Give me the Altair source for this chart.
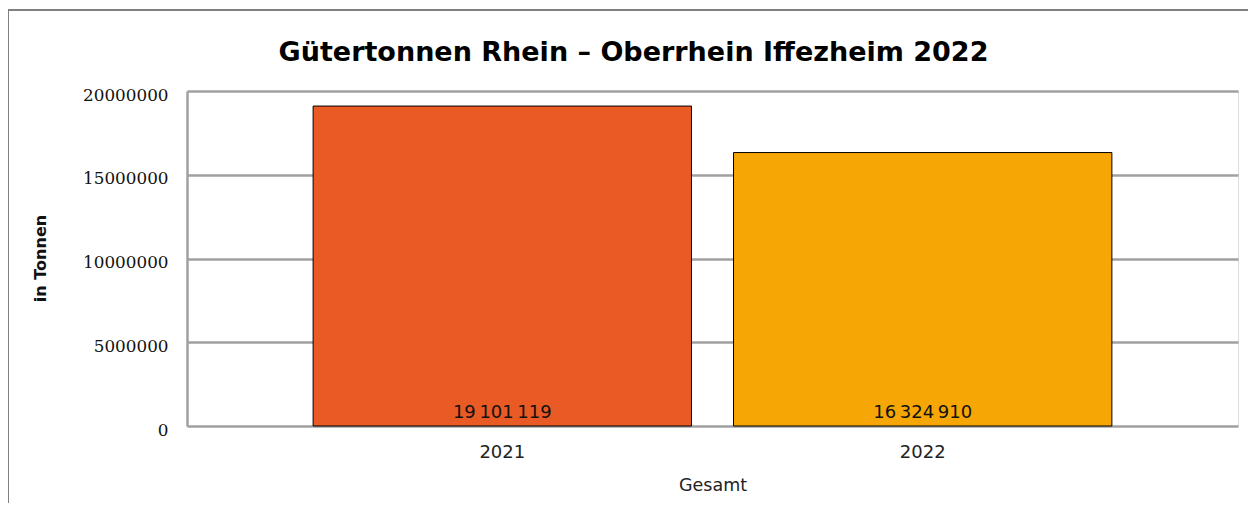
import altair as alt
import pandas as pd

years = ["2021", "2022"]
tonnen = [19101119, 16324910]
labels = ["19\u202f101\u202f119", "16\u202f324\u202f910"]
colors = ["#EA5A25", "#F6A605"]
y_ticks = [0, 5000000, 10000000, 15000000, 20000000]
title_text = ["Gütertonnen Rhein – Oberrhein Iffezheim 2022"]

df = pd.DataFrame({"Jahr": years, "Tonnen": tonnen, "Label": labels})
tdf = pd.DataFrame({"t": title_text})

SANS = "DejaVu Sans"
SERIF = "DejaVu Serif"

x_enc = alt.X(
    "Jahr:N",
    title="Gesamt",
    scale=alt.Scale(paddingInner=0.1, paddingOuter=0.3),
    axis=alt.Axis(
        labelAngle=0, labelFont=SANS, labelFontSize=18, labelColor="#222222",
        labelPadding=17, domain=False, ticks=False,
        titleFont=SANS, titleFontSize=17.5, titleFontWeight="normal",
        titleColor="#222222", titlePadding=15,
    ),
)

y_enc = alt.Y(
    "Tonnen:Q",
    title="in Tonnen",
    scale=alt.Scale(domain=[0, 20000000], nice=False),
    axis=alt.Axis(
        values=y_ticks, format="d", labelFont=SERIF, labelFontSize=16.8,
        labelColor="#111111", labelPadding=19, labelOffset=4, ticks=False,
        domain=True, domainColor="#A0A0A0", domainWidth=2.5,
        grid=True, gridColor="#A0A0A0", gridWidth=2.5,
        titleFont=SANS, titleFontSize=16, titleFontWeight="bold",
        titleColor="#111111", titleX=-147, titleY=167, titleAngle=-90,
        titleAlign="center", titleBaseline="middle",
    ),
)

bars = alt.Chart(df).mark_bar(stroke="black", strokeWidth=1).encode(
    x=x_enc,
    y=y_enc,
    color=alt.Color("Jahr:N", scale=alt.Scale(domain=years, range=colors), legend=None),
)

text = alt.Chart(df).mark_text(
    font=SANS, fontSize=18, color="#111111", baseline="alphabetic", dy=-8
).encode(
    x=alt.X("Jahr:N"),
    y=alt.datum(0),
    text="Label:N",
)

title = alt.Chart(tdf).mark_text(
    font=SANS, fontSize=27, fontWeight="bold", color="#000000",
    align="center", baseline="alphabetic",
).encode(
    x=alt.value(446.5), y=alt.value(-30), text="t:N"
)

border_left = alt.Chart(df).mark_rule(color="#808080", strokeWidth=2).encode(
    x=alt.value(-179), y=alt.value(-81), y2=alt.value(420)
)
border_top = alt.Chart(df).mark_rule(color="#808080", strokeWidth=2).encode(
    x=alt.value(-180), x2=alt.value(1070), y=alt.value(-81)
)

chart = alt.layer(border_left, border_top, bars, text, title).properties(
    width=1051,
    height=335,
    autosize=alt.AutoSizeParams(type="none"),
    padding={"left": 179, "top": 83, "right": 10, "bottom": 77},
).configure_view(stroke=None).configure(background="white")

chart.save("out.html", embed_options={"renderer": "svg", "actions": False})
